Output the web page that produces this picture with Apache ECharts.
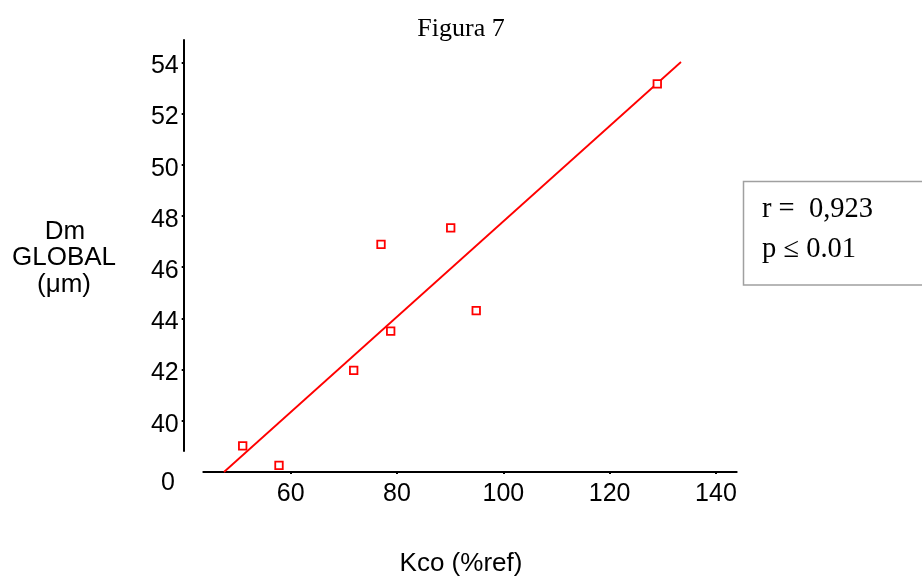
<!DOCTYPE html>
<html>
<head>
<meta charset="utf-8">
<script src="https://cdn.jsdelivr.net/npm/echarts@6/dist/echarts.min.js"></script>
<style>html,body{margin:0;padding:0;background:#fff;}#chart{width:922px;height:580px;}</style>
</head>
<body>
<div id="chart"></div>
<script>
// Data
const kcoValues = [50.97, 57.8, 71.85, 76.99, 78.81, 90.1, 94.9, 128.96];
const dmValues  = [39.02, 38.26, 41.97, 46.89, 43.50, 47.53, 44.30, 53.16];
const fitX = [47.45, 133.42];
const fitY = [38.0, 54.01];
const xTicks = [60, 80, 100, 120, 140];
const yTicks = [40, 42, 44, 46, 48, 50, 52, 54];
const titleText = 'Figura 7';
const xName = 'Kco (%ref)';
const yNameLines = ['Dm', 'GLOBAL', '(\u03bcm)'];
const statLines = ['r =  0,923', 'p \u2264 0.01'];
const brokenZero = '0';

const scatterData = kcoValues.map((v, i) => [v, dmValues[i]]);
const lineData = fitX.map((v, i) => [v, fitY[i]]);

const chart = echarts.init(document.getElementById('chart'), null, {renderer: 'canvas'});
const sans = 'Liberation Sans, Arial, sans-serif';
const serif = 'Liberation Serif, Times New Roman, serif';

chart.setOption({
  animation: false,
  backgroundColor: '#fff',
  title: {
    text: titleText, left: 'center', top: 11,
    textStyle: {fontFamily: serif, fontSize: 26, fontWeight: 'normal', color: '#000'}
  },
  grid: [
    {left: 203.3, top: 40, width: 533.4, height: 432},
    {left: 183.7, top: 40, width: 10, height: 411}
  ],
  xAxis: [
    {
      type: 'value', gridIndex: 0, min: 43.56, max: 143.9,
      splitLine: {show: false},
      axisLine: {show: true, onZero: false, lineStyle: {color: '#000', width: 2}},
      axisTick: {show: true, customValues: xTicks, length: 2, lineStyle: {color: '#000', width: 2}},
      axisLabel: {customValues: xTicks, margin: 10, color: '#000', fontFamily: sans, fontSize: 25}
    },
    {
      type: 'value', gridIndex: 1, min: 0, max: 1, show: false
    }
  ],
  yAxis: [
    {
      type: 'value', gridIndex: 0, min: 38.0, max: 54.87, show: false
    },
    {
      type: 'value', gridIndex: 1, min: 38.82, max: 54.87,
      splitLine: {show: false},
      axisLine: {show: true, onZero: false, lineStyle: {color: '#000', width: 2}},
      axisTick: {show: true, customValues: yTicks, length: 2, lineStyle: {color: '#000', width: 2}},
      axisLabel: {
        customValues: yTicks, margin: 5, color: '#000', fontFamily: sans, fontSize: 25,
        formatter: v => '{d|' + v + '}',
        rich: {d: {fontFamily: sans, fontSize: 25, color: '#000', padding: [8, 0, 0, 0]}}
      }
    }
  ],
  series: [
    {
      type: 'line', xAxisIndex: 0, yAxisIndex: 0, data: lineData,
      symbol: 'none', lineStyle: {color: '#ff0000', width: 1.8}, z: 2
    },
    {
      type: 'scatter', xAxisIndex: 0, yAxisIndex: 0, data: scatterData,
      symbol: 'rect', symbolSize: 7.5,
      itemStyle: {color: '#ffffff', borderColor: '#ff0000', borderWidth: 1.8, opacity: 1}, z: 3
    }
  ],
  graphic: [
    {type: 'text', x: 65, y: 232, style: {text: yNameLines[0], font: '26px ' + sans, fill: '#000', align: 'center', verticalAlign: 'middle'}},
    {type: 'text', x: 64, y: 258, style: {text: yNameLines[1], font: '26px ' + sans, fill: '#000', align: 'center', verticalAlign: 'middle'}},
    {type: 'text', x: 64, y: 285, style: {text: yNameLines[2], font: '26px ' + sans, fill: '#000', align: 'center', verticalAlign: 'middle'}},
    {type: 'text', x: 461, y: 564, style: {text: xName, font: '26px ' + sans, fill: '#000', align: 'center', verticalAlign: 'middle'}},
    {type: 'text', x: 168, y: 483, style: {text: brokenZero, font: '25px ' + sans, fill: '#000', align: 'center', verticalAlign: 'middle'}},
    {type: 'rect', shape: {x: 743.5, y: 181.5, width: 185, height: 103.5}, style: {fill: '#fff', stroke: '#a0a0a0', lineWidth: 1.5}},
    {type: 'text', x: 762, y: 210, style: {text: statLines[0], font: '28.5px ' + serif, fill: '#000', align: 'left', verticalAlign: 'middle'}},
    {type: 'text', x: 762, y: 250, style: {text: statLines[1], font: '28.5px ' + serif, fill: '#000', align: 'left', verticalAlign: 'middle'}}
  ]
});
</script>
</body>
</html>
